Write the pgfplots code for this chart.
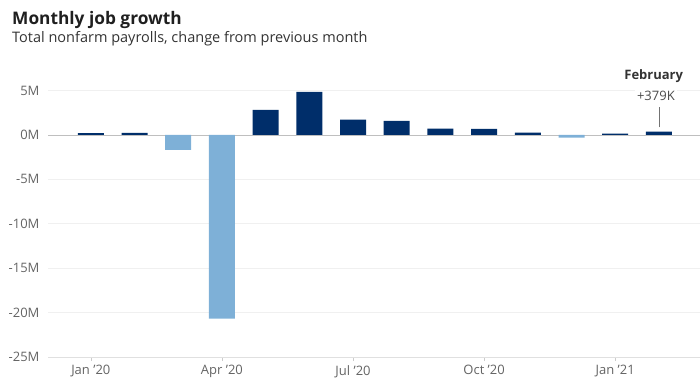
\documentclass[border=0pt]{standalone}
\usepackage{fontspec}
\setmainfont{Open Sans}
\usepackage{pgfplots}
\pgfplotsset{compat=1.18}
\definecolor{navy}{RGB}{0,46,106}
\definecolor{lightb}{RGB}{126,176,215}
\definecolor{tick}{RGB}{100,100,100}
\begin{document}
\begin{tikzpicture}
\useasboundingbox (0,0) rectangle (700pt,-390pt);
\node[anchor=base west, inner sep=0, text=black!88] at (12pt,-25pt) {\fontsize{17.3}{20}\selectfont\bfseries Monthly job growth};
\node[anchor=base west, inner sep=0, text=black!80] at (12pt,-42.5pt) {\fontsize{14.5}{16}\selectfont Total nonfarm payrolls, change from previous month};
\begin{axis}[
  at={(48pt,-357pt)}, anchor=south west,
  scale only axis, width=652pt, height=297.5pt,
  xmin=-0.98, xmax=13.94, ymin=-25, ymax=8.5,
  ybar, bar width=26pt, bar shift=0pt,
  axis x line*=bottom, axis y line*=left,
  x axis line style={draw=black!12, line width=0.8pt},
  y axis line style={draw=none},
  xtick={0,3,6,9,12},
  xticklabels={Jan '20,Apr '20,Jul '20,Oct '20,Jan '21},
  xtick style={draw=black!20, line width=0.6pt},
  tick align=outside, major tick length=4pt,
  ytick={-25,-20,-15,-10,-5,0,5},
  yticklabels={-25M,-20M,-15M,-10M,-5M,0M,5M},
  ytick style={draw=none},
  ymajorgrids, grid style={draw=black!6, line width=0.6pt},
  extra y ticks={0}, extra y tick labels={},
  extra y tick style={grid style={draw=black!25, line width=0.9pt}},
  tick label style={font=\fontsize{13}{15}\selectfont, text=tick},
  yticklabel style={xshift=-1pt},
  xticklabel style={yshift=-1pt},
  clip=false,
]
\addplot[fill=navy, draw=none] coordinates {
  (0,0.214) (1,0.251) (4,2.833) (5,4.846) (6,1.726) (7,1.583)
  (8,0.716) (9,0.680) (10,0.264) (12,0.166) (13,0.379)};
\addplot[fill=lightb, draw=none] coordinates {
  (2,-1.683) (3,-20.679) (11,-0.306)};
\draw[black!55, line width=0.7pt] (axis cs:13,0.85) -- (axis cs:13,3.15);
\node[fill=white, anchor=base, inner sep=2pt, text=black!70] at (axis cs:12.93,3.86) {\fontsize{13}{15}\selectfont +379K};
\node[fill=white, anchor=base, inner sep=2pt, text=black!80] at (axis cs:12.88,6.2) {\fontsize{13}{15}\selectfont\bfseries February};
\end{axis}
\end{tikzpicture}
\end{document}
